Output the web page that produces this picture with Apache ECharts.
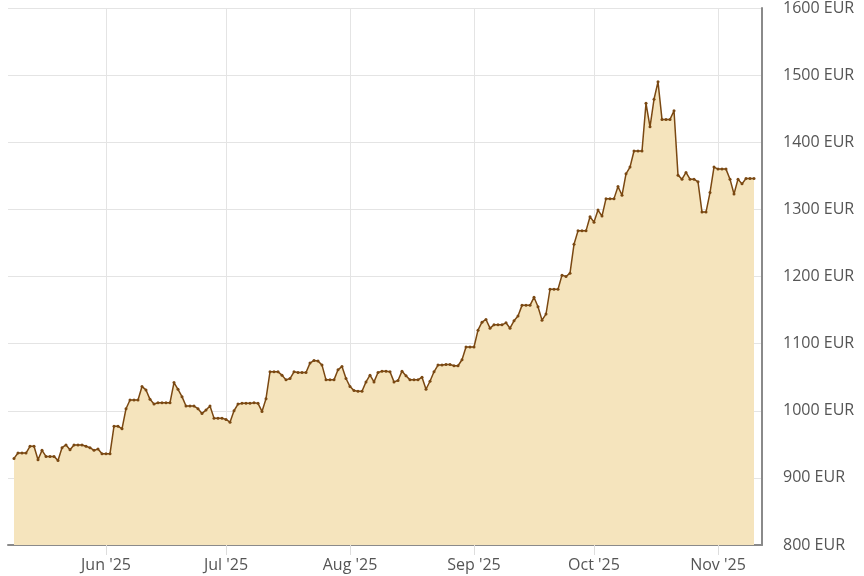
<!DOCTYPE html>
<html>

<head>
    <meta charset="utf-8">
    <title>Price chart</title>
    <script src="https://cdn.jsdelivr.net/npm/echarts@6/dist/echarts.min.js"></script>
    <style>
        html, body { margin: 0; padding: 0; background: #fff; }
    </style>
</head>

<body>
    <div id="main" style="width: 864px;height:576px;"></div>
    <script>
        // daily prices, first point is 9 May 2025
        var startDay = [2025, 4, 9];
        var prices = [
            929, 937, 937, 937, 947, 947, 927, 941, 932, 932,
            932, 926, 945, 949, 942, 949, 949, 949, 947, 945,
            941, 943, 936, 936, 936, 977, 977, 973, 1003, 1016,
            1016, 1016, 1036, 1031, 1017, 1010, 1012, 1012, 1012, 1012,
            1042, 1032, 1021, 1007, 1007, 1007, 1003, 996, 1001, 1007,
            989, 989, 989, 987, 983, 1000, 1010, 1011, 1011, 1011,
            1012, 1011, 999, 1018, 1058, 1058, 1058, 1053, 1046, 1048,
            1058, 1057, 1057, 1057, 1071, 1075, 1074, 1068, 1046, 1046,
            1046, 1061, 1066, 1048, 1036, 1030, 1029, 1029, 1043, 1053,
            1043, 1057, 1059, 1059, 1058, 1043, 1045, 1059, 1052, 1046,
            1046, 1046, 1050, 1032, 1044, 1058, 1068, 1068, 1069, 1069,
            1067, 1067, 1076, 1095, 1095, 1095, 1120, 1132, 1136, 1123,
            1128, 1128, 1128, 1131, 1123, 1134, 1141, 1157, 1157, 1157,
            1169, 1155, 1135, 1144, 1181, 1181, 1181, 1202, 1200, 1205,
            1248, 1268, 1268, 1268, 1289, 1281, 1299, 1290, 1316, 1316,
            1316, 1334, 1321, 1353, 1363, 1387, 1387, 1387, 1458, 1423,
            1464, 1490, 1434, 1434, 1434, 1447, 1351, 1345, 1355, 1345,
            1345, 1341, 1296, 1296, 1325, 1363, 1360, 1360, 1360, 1345,
            1323, 1345, 1338, 1346, 1346, 1346
        ];

        var monthTicks = [[2025, 5, 1], [2025, 6, 1], [2025, 7, 1], [2025, 8, 1], [2025, 9, 1], [2025, 10, 1]];
        var monthLabels = ["Jun '25", "Jul '25", "Aug '25", "Sep '25", "Oct '25", "Nov '25"];

        var yTicks = { min: 800, max: 1600, step: 100 };

        // x runs in days counted from the first price
        var DAY = 86400000;
        var t0 = Date.UTC(startDay[0], startDay[1], startDay[2]);
        var seriesData = prices.map(function (v, i) {
            return [i, v];
        });
        var tickValues = monthTicks.map(function (m) {
            return Math.round((Date.UTC(m[0], m[1], m[2]) - t0) / DAY);
        });

        var myChart = echarts.init(document.getElementById('main'));

        var option = {
            backgroundColor: '#ffffff',
            animation: false,
            textStyle: {
                fontFamily: 'Open Sans'
            },
            grid: {
                left: 8,
                right: 102,
                top: 8,
                bottom: 31
            },
            xAxis: {
                type: 'value',
                min: -1.5,
                max: 187,
                axisLine: {
                    show: true,
                    onZero: false,
                    lineStyle: { color: '#8a8a8a', width: 2 }
                },
                axisTick: {
                    show: true,
                    length: 10,
                    customValues: tickValues,
                    lineStyle: { color: '#dddddd' }
                },
                axisLabel: {
                    customValues: tickValues,
                    margin: 12,
                    fontSize: 16,
                    color: '#555555',
                    formatter: function (val) {
                        var idx = tickValues.indexOf(val);
                        return idx >= 0 ? monthLabels[idx] : '';
                    }
                },
                splitLine: {
                    show: true,
                    lineStyle: { color: '#e4e4e4', width: 1 }
                }
            },
            yAxis: {
                type: 'value',
                position: 'right',
                min: yTicks.min,
                max: yTicks.max,
                interval: yTicks.step,
                axisLine: {
                    show: true,
                    onZero: false,
                    lineStyle: { color: '#8a8a8a', width: 2 }
                },
                axisTick: { show: false },
                axisLabel: {
                    margin: 21,
                    fontSize: 16,
                    color: '#555555',
                    formatter: function (val) {
                        return val + ' EUR';
                    }
                },
                splitLine: {
                    lineStyle: { color: '#e4e4e4', width: 1 }
                }
            },
            series: [{
                type: 'line',
                data: seriesData,
                symbol: 'circle',
                symbolSize: 3,
                showSymbol: true,
                itemStyle: { color: '#7a4812' },
                lineStyle: { color: '#7a4812', width: 1.5 },
                areaStyle: { color: '#f5e4bd', opacity: 1 }
            }]
        };
        myChart.setOption(option);
    </script>
</body>

</html>
